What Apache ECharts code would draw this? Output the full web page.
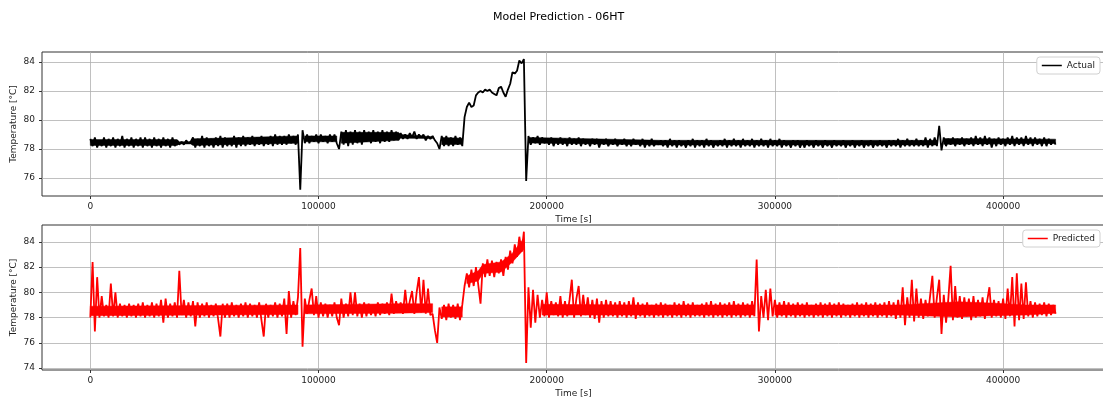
<!DOCTYPE html>
<html><head><meta charset="utf-8">
<script src="https://cdn.jsdelivr.net/npm/echarts@6/dist/echarts.min.js"></script>
<style>html,body{margin:0;padding:0;background:#fff}#c{width:1103px;height:400px}</style>
</head><body><div id="c"></div>
<script>
const STEP = 1000; // seconds between samples
const actual = [
78.7,78.2,78.8,78.1,78.6,78.2,78.8,78.1,78.7,78.2,
78.8,78.1,78.7,78.2,78.9,78.1,78.7,78.2,78.8,78.1,
78.7,78.2,78.8,78.1,78.8,78.2,78.7,78.1,78.8,78.2,
78.7,78.1,78.8,78.2,78.7,78.1,78.8,78.2,
78.6,78.3,78.5,78.3,78.6,78.4,78.5,
78.8,78.1,78.7,78.2,78.9,78.1,78.8,78.2,78.7,78.1,
78.8,78.2,78.9,78.1,78.8,78.2,78.7,78.2,78.9,78.1,
78.8,78.2,78.9,78.2,78.8,78.3,78.9,78.2,78.8,78.3,
78.9,78.2,78.8,78.3,78.9,78.2,79.0,78.3,78.9,78.3,
78.9,78.3,79.0,78.4,78.9,78.3,79.0,
75.2,79.3,
78.4,79.0,78.4,78.9,78.5,79.0,78.4,79.0,78.5,78.9,78.4,79.0,78.5,79.0,78.4,
78.0,
79.2,78.3,79.3,78.2,79.2,78.3,79.3,78.4,79.2,78.3,
79.3,78.5,79.2,78.4,79.3,78.5,79.2,78.4,79.3,78.5,
79.2,78.5,79.3,78.6,79.2,78.6,
79.1,78.7,79.0,78.7,79.1,78.8,79.2,78.7,79.0,78.8,
79.0,78.6,78.9,78.7,78.9,
78.6,78.4,78.0,
78.9,78.2,78.9,78.2,78.8,78.2,78.9,78.3,78.8,78.2,
80.2,80.9,81.2,80.9,81.0,81.7,81.9,82.0,81.9,82.1,
82.0,82.1,81.9,81.8,81.7,82.2,82.3,81.9,81.6,82.1,
82.5,83.3,83.2,83.4,84.1,83.9,84.2,
75.8,
78.9,78.3,78.8,78.4,78.9,78.3,78.8,78.4,78.7,78.3,
78.8,78.2,78.7,78.3,78.8,78.3,78.7,78.2,78.8,78.3,
78.7,78.3,78.8,78.2,78.7,78.3,78.6,78.2,78.7,78.3,
78.7,78.1,78.6,78.3,78.7,78.2,78.6,78.3,78.7,78.2,
78.6,78.3,78.7,78.2,78.6,78.2,78.7,78.3,78.6,78.2,
78.7,78.1,78.6,78.2,78.7,78.2,78.5,78.3,78.6,78.2,
78.6,78.1,78.7,78.2,78.6,78.1,78.6,78.2,78.5,78.1,
78.6,78.2,78.7,78.1,78.6,78.2,78.6,78.1,78.7,78.2,
78.6,78.1,78.5,78.2,78.6,78.2,78.7,78.1,78.6,78.2,
78.7,78.2,78.6,78.1,78.7,78.2,78.6,78.2,78.7,78.1,
78.6,78.2,78.7,78.2,78.6,78.1,78.7,78.2,78.6,78.2,
78.7,78.1,78.6,78.2,78.5,78.1,78.6,78.2,78.6,78.1,
78.5,78.1,78.6,78.2,78.5,78.1,78.6,78.2,78.5,78.1,
78.6,78.2,78.5,78.1,78.6,78.2,78.5,78.2,78.6,78.1,
78.5,78.2,78.6,78.1,78.5,78.2,78.6,78.1,78.5,78.2,
78.6,78.1,78.5,78.2,78.6,78.2,78.5,78.1,78.6,78.2,
78.6,78.2,78.7,78.1,78.6,78.2,78.7,78.2,78.6,78.2,
78.7,78.2,78.6,78.2,78.8,78.1,78.7,78.2,78.8,78.2,
79.6,77.9,
78.8,78.2,78.7,78.3,78.8,78.2,78.7,78.3,78.8,78.2,
78.7,78.3,78.8,78.2,78.9,78.3,78.8,78.2,78.9,78.3,
78.8,78.1,78.7,78.2,78.8,78.3,78.7,78.2,78.8,78.3,
78.9,78.2,78.8,78.3,78.8,78.2,78.9,78.3,78.8,78.2,
78.8,78.3,78.7,78.2,78.8,78.2,78.7,78.3,78.6,78.3
];
const predicted = [
78.0,82.4,76.9,81.2,78.0,79.7,78.1,79.0,78.0,80.7,
78.1,80.0,78.0,79.1,78.1,79.0,78.0,79.1,78.1,79.0,
78.0,79.1,78.1,79.2,78.0,79.0,78.1,79.2,78.0,79.1,
78.1,79.4,77.6,79.5,78.0,79.1,78.1,79.2,78.0,81.7,
78.2,79.4,78.0,79.2,78.1,79.3,77.3,79.2,78.0,79.1,
78.1,79.2,78.0,79.0,78.1,79.1,77.9,76.5,79.1,78.0,
79.1,78.0,79.2,78.1,79.0,78.0,79.1,78.1,79.2,78.0,
79.1,78.1,79.0,78.0,79.2,77.8,76.5,79.1,78.0,79.0,
78.1,79.2,78.0,79.1,78.1,79.5,76.7,80.1,78.0,79.3,
78.2,79.6,83.5,75.7,79.5,78.3,79.4,80.3,78.2,79.7,
78.0,79.2,78.1,79.1,78.0,79.0,78.1,79.2,78.0,77.4,
79.5,78.0,79.1,78.1,80.0,78.2,80.0,78.1,79.1,78.0,
79.2,78.1,79.1,78.2,79.0,78.1,79.2,78.2,79.1,78.3,
79.2,78.2,79.9,78.3,79.3,78.4,79.2,78.3,80.2,78.4,
79.3,80.1,78.3,80.0,81.2,78.4,81.0,78.3,80.3,78.2,
78.3,77.0,76.0,78.8,
77.9,79.0,77.8,79.1,78.0,79.0,77.9,79.1,77.8,79.0,
80.5,81.5,80.4,81.8,80.5,82.0,80.6,79.1,82.3,81.2,
82.6,81.3,82.5,81.2,82.4,81.5,82.6,81.3,82.8,81.8,
83.3,82.3,83.8,82.8,84.4,83.2,84.8,74.4,
80.4,77.2,80.2,77.6,79.8,78.0,
79.4,78.1,80.0,78.0,79.3,78.2,79.2,78.1,79.7,78.0,
79.3,78.1,79.4,81.0,78.0,79.5,80.5,78.1,79.8,78.2,
79.6,78.0,79.4,77.9,79.5,77.6,79.3,78.0,79.4,78.1,
79.3,78.1,79.2,78.0,79.3,78.1,79.2,78.0,79.3,78.1,
79.6,77.9,79.2,78.1,79.1,78.0,79.2,78.1,79.0,78.0,
79.1,78.1,79.2,78.0,79.1,78.1,79.0,78.0,79.2,78.1,
79.1,78.0,79.3,78.1,79.1,78.0,79.2,78.1,79.0,78.1,
79.1,78.0,79.2,78.1,79.3,78.0,79.1,78.1,79.2,78.0,
79.1,78.1,79.2,78.0,79.3,78.1,79.1,78.0,79.2,78.1,
79.1,78.0,79.3,78.1,82.6,76.9,79.7,78.0,80.2,77.8,
80.3,78.1,79.4,78.0,79.2,78.1,79.3,78.0,79.2,78.1,
79.1,78.0,79.2,78.1,79.1,78.0,79.2,78.1,79.0,78.0,
79.1,78.1,79.2,78.0,79.1,78.1,79.2,78.0,79.1,78.1,
79.2,78.0,79.1,78.1,79.0,78.0,79.1,78.1,79.2,78.0,
79.1,78.1,79.2,78.0,79.1,78.1,79.2,78.0,79.1,78.1,
79.2,78.0,79.3,78.1,79.2,77.9,79.4,78.0,80.4,77.4,
79.6,78.0,81.0,77.7,80.3,78.0,79.5,77.9,79.4,78.1,
79.7,81.3,78.0,79.6,81.0,76.7,79.8,77.6,79.5,82.1,
77.8,80.5,78.0,79.7,77.9,79.6,78.1,79.5,77.8,79.7,
78.0,79.4,78.1,79.6,77.9,79.3,80.4,78.0,79.4,78.1,
79.3,78.0,79.5,77.9,80.3,78.1,81.2,77.3,81.5,77.8,
80.7,77.9,80.8,78.1,79.3,78.0,79.2,78.1,79.1,78.2,
79.2,78.1,79.1,78.2,79.0,78.3
];
// dense noise core (solid part of each band); null = no solid band
const topBandT  = [0,     38000, 39000, 44000, 45000, 91000, 92000, 94000, 108000, 109000, 110000, 135000, 136000, 150000, 152000, 154000, 163000, 170000, 192000, 250000, 371000, 372000, 374000, 423000];
const topBandLo = [78.25, 78.25, 78.35, 78.35, 78.25, 78.4,  null,  78.5,  78.5,   null,   78.4,   78.6,   78.75,  78.72,  null,   78.3,   78.32,  null,   78.42,  78.28,  78.28,  null,   78.32,  78.38];
const topBandHi = [78.65, 78.65, 78.5,  78.5,  78.7,  78.9,  null,  78.9,  78.9,   null,   79.15,  79.15,  79.0,   78.85,  null,   78.8,   78.75,  null,   78.8,   78.6,   78.6,   null,   78.72,  78.68];
const botBandT  = [0,     91000, 92000, 94000, 135000, 150000, 151000, 154000, 163000, 164000, 165000, 170000, 172000, 180000, 185000, 190000, 191000, 198000, 240000, 291000, 292000, 300000, 355000, 380000, 395000, 410000, 423000];
const botBandLo = [78.15, 78.25, null,  78.3,  78.35,  78.4,   null,   78.05,  78.05,  null,   80.7,   80.9,   81.5,   81.6,   82.4,   83.4,   null,   78.2,   78.2,   78.2,   null,   78.2,   78.2,   78.05,  78.15,  78.2,   78.35];
const botBandHi = [78.9,  79.0,  null,  79.0,  79.1,   79.1,   null,   78.85,  78.85,  null,   81.3,   81.7,   82.2,   82.4,   83.1,   84.3,   null,   79.05,  79.0,   79.0,   null,   79.0,   79.0,   79.25,  79.15,  79.0,   79.0];
const xTicks = [0, 100000, 200000, 300000, 400000];
const yTicksTop = [76, 78, 80, 82, 84];
const yTicksBottom = [74, 76, 78, 80, 82, 84];

const toPairs = arr => arr.map((v, i) => [i * STEP, v]);
function segments(T, L, H) {
  const out = []; let cur = [];
  T.forEach((t, i) => {
    if (L[i] == null) { if (cur.length) out.push(cur); cur = []; }
    else cur.push([t, L[i], H[i]]);
  });
  if (cur.length) out.push(cur);
  return out;
}
const FONT = 'DejaVu Sans';
const gridLine = {show: true, lineStyle: {color: '#b0b0b0', width: 0.8}};
function xAx(idx) {
  return {
    type: 'value', gridIndex: idx, min: -21170, max: 444650,
    name: 'Time [s]', nameLocation: 'middle', nameGap: 19, nameMoveOverlap: false,
    nameTextStyle: {fontFamily: FONT, fontSize: 9, color: '#222'},
    axisLine: {show: false, onZero: false},
    axisTick: {show: true, customValues: xTicks, length: 3, lineStyle: {color: '#333'}},
    axisLabel: {customValues: xTicks, fontFamily: FONT, fontSize: 9, color: '#222', margin: 6, formatter: v => String(v)},
    splitLine: gridLine
  };
}
function yAx(idx, min, max, ticks) {
  return {
    type: 'value', gridIndex: idx, min: min, max: max,
    name: 'Temperature [°C]', nameLocation: 'middle', nameGap: 24, nameMoveOverlap: false,
    nameTextStyle: {fontFamily: FONT, fontSize: 9, color: '#222'},
    axisLine: {show: false, onZero: false},
    axisTick: {show: true, customValues: ticks, length: 3, lineStyle: {color: '#333'}},
    axisLabel: {customValues: ticks, fontFamily: FONT, fontSize: 9, color: '#222', margin: 7, formatter: v => String(v)},
    splitLine: gridLine
  };
}
function band(xi, T, L, H, color) {
  const segs = segments(T, L, H);
  return {
    type: 'custom', xAxisIndex: xi, yAxisIndex: xi, silent: true, z: 1, clip: true,
    data: segs.map(s => [s[0][0], s[0][1]]),
    renderItem: (params, api) => {
      const s = segs[params.dataIndex];
      const pts = [];
      s.forEach(p => pts.push(api.coord([p[0], p[2]])));
      for (let k = s.length - 1; k >= 0; k--) pts.push(api.coord([s[k][0], s[k][1]]));
      return {type: 'polygon', shape: {points: pts}, style: {fill: color, stroke: color, lineWidth: 0.5}};
    }
  };
}
const chart = echarts.init(document.getElementById('c'), null, {renderer: 'canvas'});
chart.setOption({
  animation: false,
  backgroundColor: '#fff',
  title: {text: 'Model Prediction - 06HT', left: 488, top: 7,
    textStyle: {fontFamily: FONT, fontSize: 11, fontWeight: 'normal', color: '#000'}},
  grid: [
    {left: 42, right: -2, top: 52, height: 144, show: true, borderColor: '#333', borderWidth: 1, backgroundColor: 'transparent', outerBoundsMode: 'none', containLabel: false},
    {left: 42, right: -2, top: 225, height: 145, show: true, borderColor: '#333', borderWidth: 1, backgroundColor: 'transparent', outerBoundsMode: 'none', containLabel: false}
  ],
  legend: [
    {data: ['Actual'], right: 3, top: 57, icon: 'rect', itemWidth: 20, itemHeight: 1.5, itemGap: 4,
     padding: [4, 5], borderColor: '#d0d0d0', borderWidth: 1, borderRadius: 3, backgroundColor: '#fff',
     textStyle: {fontFamily: FONT, fontSize: 9, color: '#222'}},
    {data: ['Predicted'], right: 3, top: 230, icon: 'rect', itemWidth: 20, itemHeight: 1.5, itemGap: 4,
     padding: [4, 5], borderColor: '#d0d0d0', borderWidth: 1, borderRadius: 3, backgroundColor: '#fff',
     textStyle: {fontFamily: FONT, fontSize: 9, color: '#222'}}
  ],
  xAxis: [xAx(0), xAx(1)],
  yAxis: [yAx(0, 74.76, 84.69, yTicksTop), yAx(1, 73.85, 85.33, yTicksBottom)],
  series: [
    band(0, topBandT, topBandLo, topBandHi, '#000'),
    band(1, botBandT, botBandLo, botBandHi, '#ff0000'),
    {name: 'Actual', type: 'line', xAxisIndex: 0, yAxisIndex: 0, data: toPairs(actual), z: 3,
     showSymbol: false, symbol: 'none', sampling: null, color: '#000', lineStyle: {color: '#000', width: 1.8}},
    {name: 'Predicted', type: 'line', xAxisIndex: 1, yAxisIndex: 1, data: toPairs(predicted), z: 3,
     showSymbol: false, symbol: 'none', sampling: null, color: '#ff0000', lineStyle: {color: '#ff0000', width: 1.8}}
  ]
});
</script></body></html>
